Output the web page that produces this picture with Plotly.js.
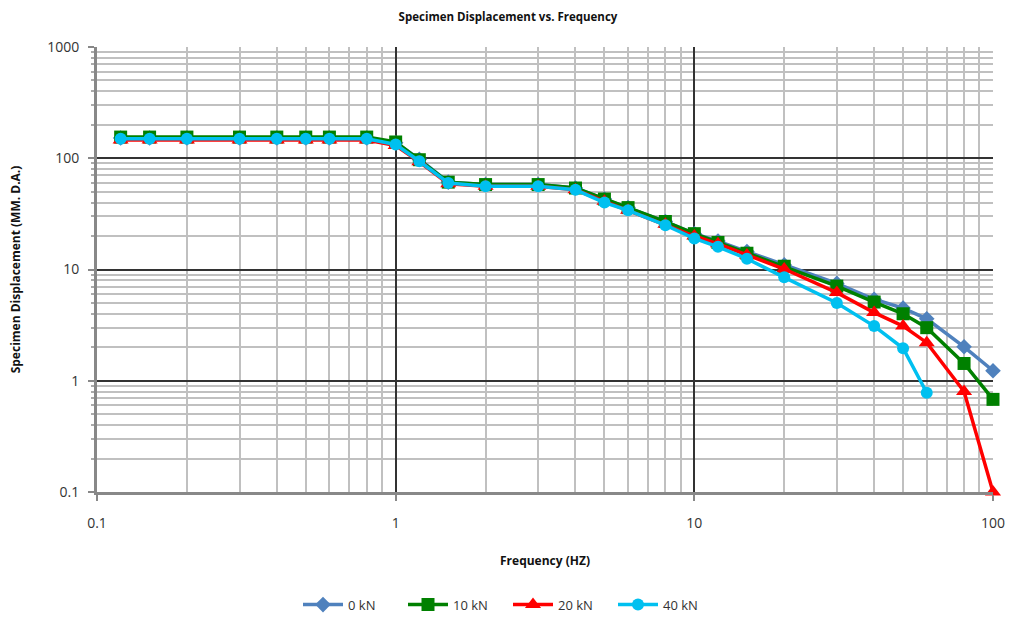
<!DOCTYPE html>
<html>
<head>
<meta charset="utf-8">
<script src="https://cdn.plot.ly/plotly-3.0.1.min.js"></script>
<style>html,body{margin:0;padding:0;background:#fff;}#chart{width:1016px;height:617px;}</style>
</head>
<body>
<div id="chart"></div>
<script>
const freq = [0.12,0.15,0.2,0.3,0.4,0.5,0.6,0.8,1,1.2,1.5,2,3,4,5,6,8,10,12,15,20,30,40,50,60,80,100];
const freq40 = [0.12,0.15,0.2,0.3,0.4,0.5,0.6,0.8,1,1.2,1.5,2,3,4,5,6,8,10,12,15,20,30,40,50,60];
const disp0kN  = [152,152,152,152,152,152,152,152,138,98,61,58,58,54,43,36,27,21,18,14.5,11,7.5,5.4,4.5,3.6,2.02,1.23];
const disp10kN = [155,155,155,155,155,155,155,155,140,97,61,58,58,54,43,36,27,21,17.5,14,10.7,7.1,5.1,4.0,3.0,1.43,0.68];
const disp20kN = [146,146,146,146,146,146,146,146,130,93,59,56,56,52,41,34,25.5,20,17,13.5,10.1,6.2,4.1,3.1,2.2,0.80,0.10];
const disp40kN = [150,150,150,150,150,150,150,150,133,94,60,56,56,52,40,34,25,19,16,12.5,8.5,5.0,3.1,1.96,0.78];
const xTickVals = [0.1,1,10,100];
const xTickText = ["0.1","1","10","100"];
const yTickVals = [0.1,1,10,100,1000];
const yTickText = ["0.1","1","10","100","1000"];

function minorVals(lo, hi) {
  const v = [];
  for (let d = lo; d < hi; d *= 10) for (let k = 2; k <= 9; k++) v.push(+(d * k).toPrecision(3));
  return v;
}

const font = "Open Sans, Liberation Sans, sans-serif";
const traces = [
  {x: freq, y: disp0kN, name: "0 kN", mode: "lines+markers", cliponaxis: false,
   line: {color: "#4f81bd", width: 3.5}, marker: {symbol: "diamond", size: 12, color: "#4f81bd"}},
  {x: freq, y: disp10kN, name: "10 kN", mode: "lines+markers", cliponaxis: false,
   line: {color: "#008000", width: 3.5}, marker: {symbol: "square", size: 13, color: "#008000"}},
  {x: freq, y: disp20kN, name: "20 kN", mode: "lines+markers", cliponaxis: false,
   line: {color: "#ff0000", width: 3.5}, marker: {symbol: "triangle-up", size: 14, color: "#ff0000"}},
  {x: freq40, y: disp40kN, name: "40 kN", mode: "lines+markers", cliponaxis: false,
   line: {color: "#00c0f0", width: 3.5}, marker: {symbol: "circle", size: 12, color: "#00c0f0"}}
];

const layout = {
  width: 1016, height: 617,
  margin: {l: 97, r: 23, t: 47, b: 125, autoexpand: false},
  paper_bgcolor: "#fff", plot_bgcolor: "#fff",
  font: {family: font, color: "#222", size: 14},
  title: {text: "<b>Specimen Displacement vs. Frequency</b>", font: {size: 11.5, color: "#111"}, x: 0.5, xanchor: "center", y: 0.973, yanchor: "middle"},
  showlegend: true,
  legend: {orientation: "h", xref: "container", x: 0.5, xanchor: "center", yref: "container", y: 0.02, yanchor: "middle",
           font: {size: 13, color: "#333"}, traceorder: "normal", entrywidth: 50, itemwidth: 40},
  xaxis: {
    type: "log", range: [-1, 2],
    tickvals: xTickVals, ticktext: xTickText,
    ticks: "outside", ticklen: 6, tickwidth: 2, tickcolor: "#888",
    ticklabelstandoff: 10,
    showline: true, linecolor: "#888", linewidth: 3,
    showgrid: true, gridcolor: "#333", gridwidth: 2,
    zeroline: false,
    minor: {tickvals: minorVals(0.1, 100), showgrid: true, gridcolor: "#c0c0c0", gridwidth: 2, ticks: ""},
    title: {text: "<b>Frequency (HZ)</b>", font: {size: 12, color: "#111"}, standoff: 26},
    tickfont: {size: 14, color: "#333"}
  },
  yaxis: {
    type: "log", range: [-1, 3],
    tickvals: yTickVals, ticktext: yTickText,
    ticks: "outside", ticklen: 6, tickwidth: 2, tickcolor: "#888",
    ticklabelstandoff: 6,
    showline: true, linecolor: "#888", linewidth: 3,
    showgrid: true, gridcolor: "#333", gridwidth: 2,
    zeroline: false,
    minor: {tickvals: minorVals(0.1, 1000), showgrid: true, gridcolor: "#c0c0c0", gridwidth: 2, ticks: "outside", ticklen: 3, tickcolor: "#aaa"},
    title: {text: "<b>Specimen Displacement (MM. D.A.)</b>", font: {size: 12, color: "#111"}, standoff: 24},
    tickfont: {size: 14, color: "#333"}
  }
};

Plotly.newPlot("chart", traces, layout, {displayModeBar: false, staticPlot: true});
</script>
</body>
</html>
